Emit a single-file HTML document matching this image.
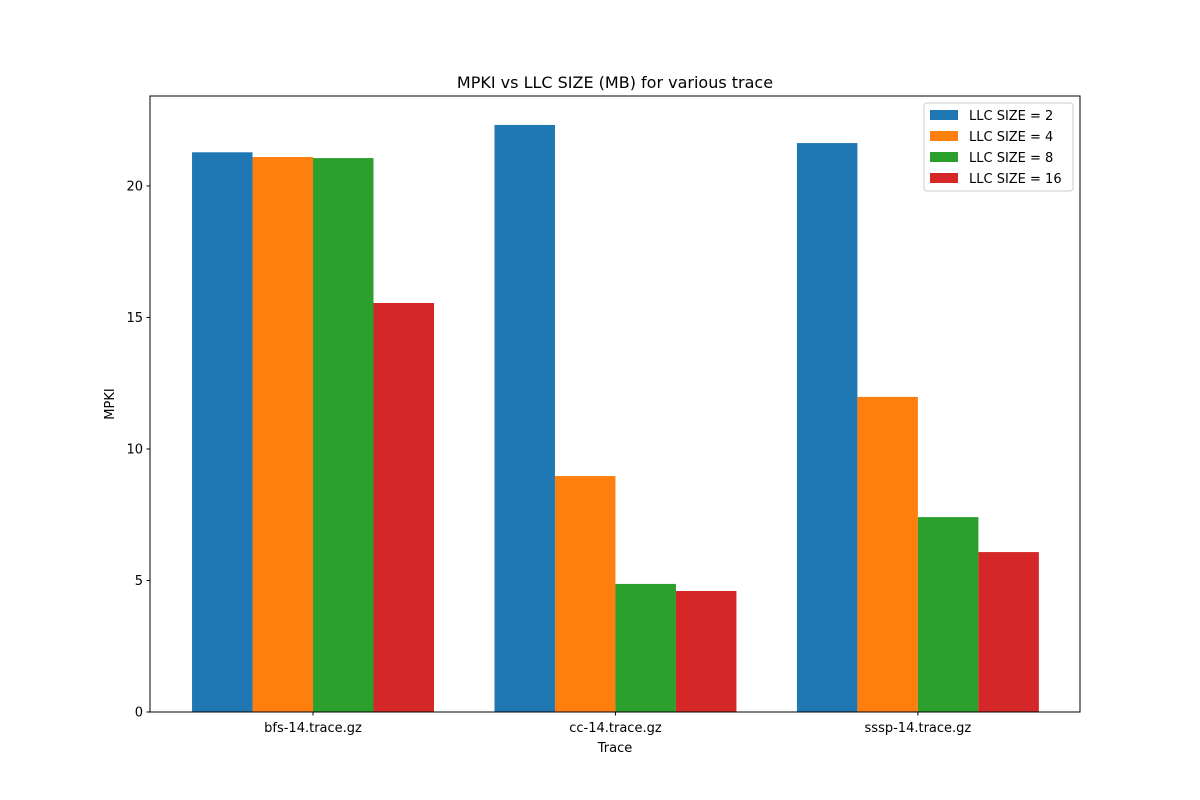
<!DOCTYPE html>
<html><head><meta charset="utf-8"><style>
html,body{margin:0;padding:0;background:#fff;}
svg{display:block;font-family:"DejaVu Sans","Liberation Sans",sans-serif;}
</style></head><body>
<svg id="chart" width="1200" height="800" viewBox="0 0 1200 800"></svg>
<script>
const categories = ["bfs-14.trace.gz", "cc-14.trace.gz", "sssp-14.trace.gz"];
const seriesNames = ["LLC SIZE = 2", "LLC SIZE = 4", "LLC SIZE = 8", "LLC SIZE = 16"];
const llc2 = [21.28, 22.32, 21.63];
const llc4 = [21.10, 8.97, 11.98];
const llc8 = [21.06, 4.87, 7.41];
const llc16 = [15.55, 4.60, 6.08];
const yTicks = [0, 5, 10, 15, 20];
const colors = ["#1f77b4", "#ff7f0e", "#2ca02c", "#d62728"];

const series = [llc2, llc4, llc8, llc16];
const L = 150, R = 1080, T = 96, B = 712;
const yMax = 23.42, xMin = -0.539, xMax = 2.536;
const ys = v => B - v / yMax * (B - T);
const xs = v => L + (v - xMin) / (xMax - xMin) * (R - L);
const svg = document.getElementById('chart');
const NS = 'http://www.w3.org/2000/svg';
function mk(tag, attrs, parent, text) {
  const e = document.createElementNS(NS, tag);
  for (const k in attrs) e.setAttribute(k, attrs[k]);
  if (text !== undefined) e.textContent = text;
  (parent || svg).appendChild(e);
  return e;
}
const barW = 0.2;
series.forEach((vals, s) => {
  vals.forEach((v, i) => {
    const x0 = xs(i - 0.4 + s * barW), x1 = xs(i - 0.4 + (s + 1) * barW);
    const r = mk('rect', {x: x0, y: ys(v), width: x1 - x0, height: B - ys(v), fill: colors[s]});
    
    
  });
});
const frame = mk('rect', {x: L, y: T, width: R - L, height: B - T, fill: 'none', stroke: '#000', 'stroke-width': 1});


yTicks.forEach(t => {
  const y = ys(t);
  mk('line', {x1: L - 3.5, x2: L, y1: y, y2: y, stroke: '#000'});
  const tx = mk('text', {x: L - 7, y: y + 4.5, 'text-anchor': 'end', 'font-size': 13}, svg, String(t));
  
  
});
categories.forEach((c, i) => {
  const x = xs(i);
  mk('line', {x1: x, x2: x, y1: B, y2: B + 3.5, stroke: '#000'});
  const tx = mk('text', {x: x, y: B + 20, 'text-anchor': 'middle', 'font-size': 13}, svg, c);
  
  
});
const xt = mk('text', {x: (L + R) / 2, y: 752, 'text-anchor': 'middle', 'font-size': 13}, svg, 'Trace');


const yt = mk('text', {x: 114, y: (T + B) / 2, 'text-anchor': 'middle', 'font-size': 13, transform: 'rotate(-90 114 ' + (T + B) / 2 + ')'}, svg, 'MPKI');


const ti = mk('text', {x: (L + R) / 2, y: 88, 'text-anchor': 'middle', 'font-size': 16}, svg, 'MPKI vs LLC SIZE (MB) for various trace');


const lg = mk('g', {});


mk('rect', {x: 924, y: 103, width: 149, height: 88, rx: 3, fill: '#fff', stroke: '#ccc', 'fill-opacity': 0.8}, lg);
seriesNames.forEach((n, s) => {
  const y = 115 + s * 21;
  const g = mk('g', {}, lg);
  
  
  mk('rect', {x: 930, y: y - 5, width: 28, height: 10, fill: colors[s]}, g);
  mk('text', {x: 969, y: y + 5, 'font-size': 13}, g, n);
});
</script>
</body></html>
